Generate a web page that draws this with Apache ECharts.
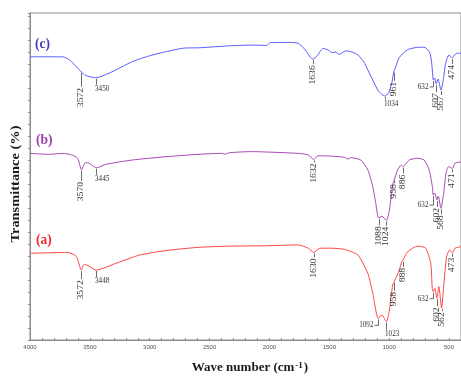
<!DOCTYPE html>
<html>
<head>
<meta charset="utf-8">
<script src="https://cdn.jsdelivr.net/npm/echarts@6/dist/echarts.min.js"></script>
<style>
  html, body { margin: 0; padding: 0; background: #fff; }
  #chart { width: 461px; height: 377px; }
</style>
</head>
<body>
<div id="chart"></div>
<script>
// wave numbers (cm-1) and transmittance
const waveC = [4000, 3726, 3668, 3610, 3572, 3535, 3450, 3336, 3145, 3004, 2863, 2714, 2589, 2315, 2133, 2025, 1992, 1842, 1759, 1701, 1660, 1636, 1602, 1552, 1510, 1477, 1444, 1419, 1361, 1311, 1261, 1212, 1178, 1137, 1095, 1060, 1034, 1005, 980, 961, 945, 920, 880, 840, 750, 700, 660, 645, 636, 632, 620, 607, 592, 567, 548, 528, 500, 474, 455, 430, 400];
const transC = [94.4, 94.4, 93.3, 91, 89.4, 88.2, 87.4, 89, 92.8, 94.7, 96.1, 97.3, 97.4, 98.1, 98.3, 98.2, 99.1, 99.2, 98.9, 96.7, 94.3, 93.6, 94.7, 97.2, 96.7, 95.8, 96, 95.2, 96.4, 96, 95, 92.7, 90, 86.7, 83.3, 81.8, 81.3, 82.3, 85.3, 89.4, 91, 93.9, 95.7, 96.9, 97.6, 97.5, 95.7, 92.3, 88.3, 86.7, 87.3, 85.3, 87, 83.3, 86.7, 92.3, 95, 94, 95, 95.6, 95.6];

const waveB = [4000, 3834, 3726, 3654, 3602, 3570, 3544, 3519, 3477, 3445, 3363, 3145, 2863, 2589, 2398, 2368, 2340, 2149, 1983, 1759, 1676, 1632, 1593, 1485, 1372, 1344, 1320, 1237, 1178, 1137, 1112, 1088, 1060, 1024, 998, 971, 958, 929, 902, 886, 832, 763, 708, 666, 639, 632, 620, 602, 590, 568, 545, 525, 505, 471, 450, 400];
const transB = [62.2, 61.9, 62.2, 61.7, 60.6, 56.7, 58.9, 59.1, 58.1, 57.4, 58.6, 60, 61.1, 61.9, 62.2, 61.9, 62.4, 62.8, 62.6, 62.2, 61.7, 60.2, 61.4, 61.3, 60.9, 60.3, 60.8, 60, 56.7, 51.1, 45.6, 40.6, 41.3, 39.8, 43.3, 51.7, 53.3, 56.7, 58.3, 57.8, 60, 60.6, 60, 56.7, 51.1, 48.3, 49, 46.7, 48, 43.9, 48.9, 55.6, 57.8, 57.2, 58.9, 59.4];

const waveA = [4000, 3682, 3612, 3572, 3549, 3524, 3448, 3280, 3087, 2866, 2589, 2315, 2036, 1759, 1676, 1630, 1579, 1485, 1372, 1261, 1178, 1137, 1092, 1060, 1023, 998, 971, 958, 915, 896, 888, 846, 763, 695, 653, 640, 632, 618, 602, 585, 562, 545, 520, 495, 473, 450, 400];
const transA = [28.9, 29.2, 27.8, 23.3, 25.2, 25, 23.3, 25.6, 28.3, 29.8, 30.9, 31.3, 31.4, 31.7, 30.6, 29.2, 30.6, 30.6, 30.2, 28.3, 22.2, 15.6, 7.2, 8.3, 6.1, 10, 18.3, 19.4, 23.3, 26.1, 26.4, 29.4, 31.3, 30.6, 25.6, 17.2, 16.1, 17.2, 13.9, 17.8, 10.6, 17.8, 27.8, 30, 29.1, 30.6, 31.1];

// labelled peaks
const peaksC = [3572, 3450, 1636, 1034, 961, 632, 607, 567, 474];
const peaksB = [3570, 3445, 1632, 1088, 1024, 958, 886, 632, 602, 568, 471];
const peaksA = [3572, 3448, 1630, 1092, 1023, 958, 888, 632, 602, 562, 473];

// how each peak label sits: v = rotated below, h = flat below, l = flat to the left
const layoutC = ['v', 'h', 'v', 'h', 'v', 'l', 'v', 'v', 'v'];
const gapC = [16, 8, 6, 4.5, 10, 7, 9, 6, 7];
const layoutB = ['v', 'h', 'v', 'v', 'v', 'v', 'v', 'l', 'v', 'v', 'v'];
const gapB = [12, 8, 4, 8, 6, 4, 8, 10, 8, 7, 5];
const layoutA = ['v', 'h', 'v', 'l', 'h', 'v', 'v', 'l', 'v', 'v', 'v'];
const gapA = [10, 8, 6, 7, 9, 10, 7, 7, 9, 4, 5];

const zip = (w, t) => w.map((x, i) => [x, t[i]]);

function peakSeries(peaks, layout, gap, waves, trans) {
    const data = peaks.map(w => [w, trans[waves.indexOf(w)]]);
    const font = '7.2px "Liberation Serif"';
    const seg = (x1, y1, x2, y2) => ({
        type: 'line', shape: {x1, y1, x2, y2},
        style: {stroke: '#444', lineWidth: 0.8}
    });
    return {
        type: 'custom',
        data: data,
        encode: {x: 0, y: 1},
        silent: true,
        clip: false,
        z: 5,
        renderItem: function (params, api) {
            const i = params.dataIndex;
            const p = api.coord([api.value(0), api.value(1)]);
            const g = gap[i];
            const txt = String(peaks[i]);
            const x = Math.round(p[0]) + 0.5;
            const y = p[1];
            if (layout[i] === 'v') {
                return {type: 'group', children: [
                    seg(x, y + 1, x, y + g - 1),
                    {type: 'text', x: x, y: y + g, rotation: Math.PI / 2, scaleX: 1.35,
                        style: {text: txt, font: font, fill: '#333', align: 'right', verticalAlign: 'middle'}}
                ]};
            }
            if (layout[i] === 'h') {
                return {type: 'group', children: [
                    seg(x, y + 1, x, y + g - 1),
                    {type: 'text', x: x - 1.5, y: y + g,
                        style: {text: txt, font: font, fill: '#333', align: 'left', verticalAlign: 'top'}}
                ]};
            }
            return {type: 'group', children: [
                seg(x, y + 1, x, y + g),
                seg(x, y + g, x - 4, y + g),
                {type: 'text', x: x - 5, y: y + g,
                    style: {text: txt, font: font, fill: '#333', align: 'right', verticalAlign: 'middle'}}
            ]};
        }
    };
}

const chart = echarts.init(document.getElementById('chart'));

const option = {
    backgroundColor: '#fff',
    animation: false,
    grid: {
        left: 30, right: -3, top: 13, bottom: 37,
        show: true, borderColor: '#8c8c8c', borderWidth: 1
    },
    xAxis: {
        type: 'value',
        min: 400,
        max: 4000,
        interval: 100,
        inverse: true,
        axisLine: {lineStyle: {color: '#8c8c8c', width: 1}},
        axisTick: {inside: true, length: 2, lineStyle: {color: '#8c8c8c'}},
        axisLabel: {
            margin: 4,
            fontSize: 6,
            fontFamily: 'Liberation Sans',
            color: '#555',
            showMinLabel: false,
            showMaxLabel: true,
            formatter: v => (v % 500 === 0 ? String(v) : '')
        },
        splitLine: {show: false}
    },
    yAxis: {
        type: 'value',
        min: 0,
        max: 109,
        interval: 4,
        axisLine: {show: true, lineStyle: {color: '#8c8c8c', width: 1}},
        axisTick: {show: true, length: 2, lineStyle: {color: '#8c8c8c'}},
        axisLabel: {show: false},
        splitLine: {show: false}
    },
    graphic: [
        {type: 'text', x: 15.5, y: 184, rotation: Math.PI / 2, scaleX: 1.11,
            style: {text: 'Transmittance (%)', font: 'bold 13px "Liberation Serif"', fill: '#1a1a1a',
                align: 'center', verticalAlign: 'middle'}},
        {type: 'text', x: 250, y: 368,
            style: {
                text: '{a|Wave number (cm}{s|-1}{a|)}',
                align: 'center', verticalAlign: 'middle',
                rich: {
                    a: {font: 'bold 13px "Liberation Serif"', fill: '#1a1a1a'},
                    s: {font: 'bold 9px "Liberation Serif"', fill: '#1a1a1a', verticalAlign: 'top', padding: [0, 1, 0, 1]}
                }
            }},
        {type: 'text', x: 35, y: 44, scaleX: 0.9,
            style: {text: '(c)', font: 'bold 15px "Liberation Serif"', fill: '#3c3cc8', verticalAlign: 'middle'}},
        {type: 'text', x: 36, y: 140, scaleX: 0.9,
            style: {text: '(b)', font: 'bold 15px "Liberation Serif"', fill: '#a03ca8', verticalAlign: 'middle'}},
        {type: 'text', x: 36, y: 240, scaleX: 0.9,
            style: {text: '(a)', font: 'bold 15px "Liberation Serif"', fill: '#f02832', verticalAlign: 'middle'}}
    ],
    series: [
        {type: 'line', name: '(c)', data: zip(waveC, transC), showSymbol: false, smooth: 0.2,
            lineStyle: {color: '#5a5aff', width: 1}},
        {type: 'line', name: '(b)', data: zip(waveB, transB), showSymbol: false, smooth: 0.2,
            lineStyle: {color: '#aa46b4', width: 1}},
        {type: 'line', name: '(a)', data: zip(waveA, transA), showSymbol: false, smooth: 0.2,
            lineStyle: {color: '#ff4646', width: 1}},
        peakSeries(peaksC, layoutC, gapC, waveC, transC),
        peakSeries(peaksB, layoutB, gapB, waveB, transB),
        peakSeries(peaksA, layoutA, gapA, waveA, transA)
    ]
};

chart.setOption(option);
</script>
</body>
</html>
